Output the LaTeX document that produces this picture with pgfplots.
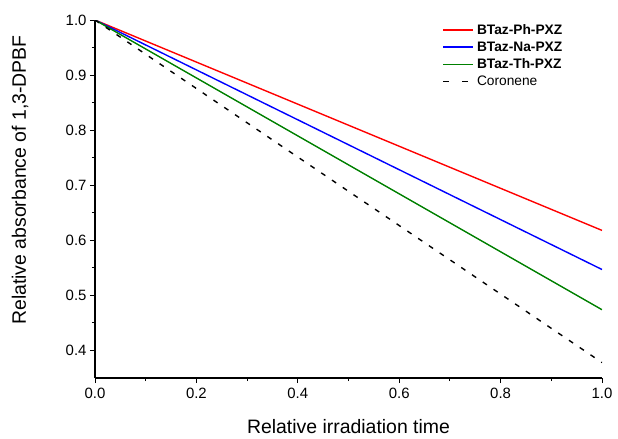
\documentclass[border=0pt]{standalone}
\usepackage{pgfplots}
\pgfplotsset{compat=1.18}
\usepackage{fontspec}
\setmainfont{Liberation Sans}
\begin{document}
\begin{tikzpicture}[x=1bp,y=1bp]
\useasboundingbox (-95bp,-61bp) rectangle (523bp,378bp);
\begin{axis}[
  at={(0,0)}, anchor=south west,
  scale only axis,
  width=507bp, height=358bp,
  xmin=0, xmax=1, ymin=0.35, ymax=1.0,
  axis x line*=bottom, axis y line*=left,
  axis line style={-, line width=1.1pt, black},
  xtick={0,0.2,...,1.0}, ytick={0.4,0.5,...,1.0},
  minor x tick num=1, minor y tick num=1,
  tick align=outside,
  major tick length=5bp, minor tick length=3bp,
  tick style={line width=1pt, black},
  /pgf/number format/assume math mode=true,
  /pgf/number format/fixed, /pgf/number format/fixed zerofill, /pgf/number format/precision=1,
  tick label style={font=\fontsize{15}{17}\selectfont},
  xticklabel style={yshift=-2bp},
  xlabel={Relative irradiation time},
  ylabel={Relative absorbance of 1,3-DPBF},
  label style={font=\fontsize{19.5}{22}\selectfont},
  xlabel style={at={(axis description cs:0.5,-0.137)}, anchor=center},
  ylabel style={at={(axis description cs:-0.148,0.553)}, anchor=center},
  legend style={draw=none, fill=none, at={(axis description cs:0.93,0.997)}, anchor=north east,
    font=\fontsize{13.8}{15}\selectfont, row sep=2bp, inner sep=1bp,
    nodes={inner xsep=3bp}},
  legend cell align=left,
  legend image code/.code={\draw (0bp,0bp) -- (30bp,0bp);},
]
\addplot[red, line width=1.4pt] coordinates {(0,1.0) (1,0.618)};
\addlegendentry{\textbf{BTaz-Ph-PXZ}}
\addplot[blue, line width=1.4pt] coordinates {(0,1.0) (1,0.547)};
\addlegendentry{\textbf{BTaz-Na-PXZ}}
\addplot[green!50!black, line width=1.4pt] coordinates {(0,1.0) (1,0.474)};
\addlegendentry{\textbf{BTaz-Th-PXZ}}
\addplot[black, line width=1.4pt, dash pattern=on 5bp off 8bp,
  legend image code/.code={\draw[dash pattern=on 6bp off 13bp] (0bp,0bp) -- (30bp,0bp);}]
  coordinates {(0,1.0) (1,0.378)};
\addlegendentry{Coronene}
\end{axis}
\end{tikzpicture}
\end{document}
